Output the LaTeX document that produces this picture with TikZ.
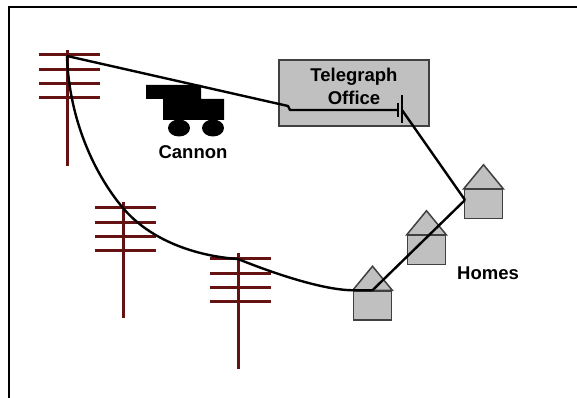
\documentclass[tikz,border=0pt]{standalone}
\usepackage{fontspec}
\setmainfont{Liberation Sans}
\usetikzlibrary{calc}
\definecolor{polered}{RGB}{100,18,18}
\definecolor{boxgray}{RGB}{192,192,192}
\definecolor{edgegray}{RGB}{64,64,64}
\begin{document}
\begin{tikzpicture}[x=1pt,y=-1pt,
  wire/.style={black,line width=2.4pt,line join=round},
  polebar/.style={polered,line width=3pt},
  house/.style={draw=edgegray,fill=boxgray,line width=1.5pt,rectangle,
    minimum width=38pt,minimum height=29pt,inner sep=0pt},
  roof/.style={draw=edgegray,fill=boxgray,line width=1.5pt},
  caption/.style={font=\fontsize{18.5}{23}\selectfont\bfseries,inner sep=0pt,align=center},
  telpole/.pic={
    \draw[polebar] (0,0) -- (0,116);
    \foreach \yy in {5,20,34,48} \draw[polebar] (-28,\yy) -- (33,\yy);
    \coordinate (-top) at (0,6);
  }]
\useasboundingbox (0,0) rectangle (577,398);
\fill[white] (0,0) rectangle (577,398);
% frame along the top and left edges
\draw[line width=2pt] (9,398) -- (9,7) -- (577,7);

% telegraph poles
\pic (p1) at (67,50) {telpole};
\pic (p2) at (123,202) {telpole};
\pic (p3) at (238,253) {telpole};

% telegraph office
\node[draw=edgegray,fill=boxgray,line width=1.5pt,minimum width=150pt,minimum height=66pt,inner sep=0pt]
  (office) at (354,93) {};
\node[caption] (officetext) at (354,86) {Telegraph\\Office};

% cannon
\fill (146,85) -- (201,85) -- (201,99) -- (224,99) -- (224,120) -- (163,120) -- (163,99) -- (146,99) -- cycle;
\fill (179,128) ellipse [x radius=11, y radius=8.5];
\fill (213,128) ellipse [x radius=11, y radius=8.5];
\node[caption] (cannon) at (193,152) {Cannon};

% homes
\foreach \n/\cx/\cy in {h1/372.5/305.5, h2/426.5/250, h3/483.5/204} {
  \node[house] (\n) at (\cx,\cy) {};
  \draw[roof] (\n.north west) -- ($(\n.north)+(0,-24)$) -- (\n.north east) -- cycle;
}
\node[caption] (homes) at (488,273) {Homes};

% wires
\coordinate (key) at (398,110);
\coordinate (h3w) at (465,200);
\draw[wire] (p1-top) -- (288,106) -- (290,110) -- (key);
\draw[line width=2.5pt] (398,103) -- (398,117);
\draw[line width=2.5pt] (402,95) -- (402,123);
\draw[wire] (402,110) -- (h3w);
\draw[wire] (h3w) -- (h1.north);
\draw[wire] (p1-top) .. controls (69,120) and (95,175) .. (p2-top)
  .. controls (150,240) and (195,256) .. (p3-top)
  .. controls (265,270) and (320,290) .. (h1.north west) -- (h1.north);
\end{tikzpicture}
\end{document}
